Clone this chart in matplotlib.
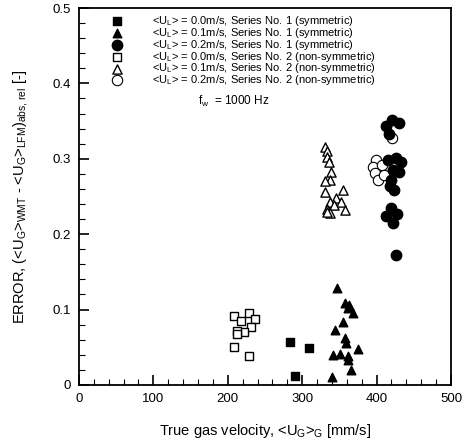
import matplotlib
matplotlib.use('Agg')
import matplotlib.pyplot as plt
from matplotlib.ticker import MultipleLocator

plt.rcParams['font.family'] = ['Liberation Sans', 'DejaVu Sans']
plt.rcParams['mathtext.fontset'] = 'custom'
plt.rcParams['mathtext.rm'] = 'Liberation Sans'
plt.rcParams['mathtext.it'] = 'Liberation Sans'

# Series No. 1 (symmetric)
sq_fill_x = [284, 309, 290]
sq_fill_y = [0.057, 0.049, 0.012]

tri_fill_x = [347, 357, 363, 361, 368, 355, 344, 358, 359, 375, 341, 351, 362, 362, 366, 340]
tri_fill_y = [0.128, 0.108, 0.106, 0.102, 0.095, 0.083, 0.073, 0.062, 0.056, 0.048,
              0.040, 0.041, 0.038, 0.033, 0.020, 0.010]

circ_fill_x = [421, 430, 412, 417, 416, 426, 433, 430, 422, 419, 423, 418,
               419, 428, 422, 412, 426]
circ_fill_y = [0.352, 0.348, 0.343, 0.333, 0.298, 0.301, 0.296, 0.282, 0.285, 0.272,
               0.258, 0.264, 0.235, 0.227, 0.215, 0.224, 0.172]

# Series No. 2 (non-symmetric)
sq_open_x = [208, 218, 229, 236, 231, 222, 212, 212, 209, 229]
sq_open_y = [0.091, 0.085, 0.096, 0.087, 0.077, 0.070, 0.071, 0.067, 0.050, 0.038]

tri_open_x = [331, 334, 333, 336, 339, 337, 331, 355, 331, 345, 338, 352, 334, 343, 358, 338, 334]
tri_open_y = [0.316, 0.310, 0.303, 0.296, 0.283, 0.272, 0.270, 0.259, 0.256, 0.248,
              0.243, 0.243, 0.234, 0.239, 0.232, 0.228, 0.230]

circ_open_x = [421, 399, 395, 398, 402, 407, 410]
circ_open_y = [0.328, 0.298, 0.289, 0.281, 0.272, 0.292, 0.278]

labels = [
    r'<U$_\mathrm{L}$> = 0.0m/s, Series No. 1 (symmetric)',
    r'<U$_\mathrm{L}$> = 0.1m/s, Series No. 1 (symmetric)',
    r'<U$_\mathrm{L}$> = 0.2m/s, Series No. 1 (symmetric)',
    r'<U$_\mathrm{L}$> = 0.0m/s, Series No. 2 (non-symmetric)',
    r'<U$_\mathrm{L}$> = 0.1m/s, Series No. 2 (non-symmetric)',
    r'<U$_\mathrm{L}$> = 0.2m/s, Series No. 2 (non-symmetric)',
]

fig = plt.figure(figsize=(4.64, 4.46), dpi=100)
ax = fig.add_axes([0.170, 0.137, 0.802, 0.845])

ax.scatter(sq_fill_x, sq_fill_y, marker='s', s=30, c='black', label=labels[0], zorder=3)
ax.scatter(tri_fill_x, tri_fill_y, marker='^', s=38, c='black', label=labels[1], zorder=3)
ax.scatter(circ_fill_x, circ_fill_y, marker='o', s=56, c='black', label=labels[2], zorder=3)
ax.scatter(sq_open_x, sq_open_y, marker='s', s=34, facecolors='white', edgecolors='black',
           linewidths=1.0, label=labels[3], zorder=2)
ax.scatter(tri_open_x, tri_open_y, marker='^', s=44, facecolors='white', edgecolors='black',
           linewidths=1.0, label=labels[4], zorder=2)
ax.scatter(circ_open_x, circ_open_y, marker='o', s=56, facecolors='white', edgecolors='black',
           linewidths=0.8, label=labels[5], zorder=2)

ax.set_xlim(0, 500)
ax.set_ylim(0, 0.5)
ax.xaxis.set_major_locator(MultipleLocator(100))
ax.xaxis.set_minor_locator(MultipleLocator(20))
ax.yaxis.set_minor_locator(MultipleLocator(0.02))
ax.set_yticks([0, 0.1, 0.2, 0.3, 0.4, 0.5])
ax.set_yticklabels(['0', '0.1', '0.2', '0.3', '0.4', '0.5'])
ax.tick_params(which='major', direction='in', length=7, width=1.2, labelsize=9.5, pad=6)
ax.tick_params(which='minor', direction='in', length=4, width=0.8)
for sp in ax.spines.values():
    sp.set_linewidth(1.3)

ax.set_xlabel(r'True gas velocity, <U$_\mathrm{G}$>$_\mathrm{G}$ [mm/s]', fontsize=10.5, labelpad=12)
ax.set_ylabel(r'ERROR, (<U$_\mathrm{G}$>$_\mathrm{WMT}$ - <U$_\mathrm{G}$>$_\mathrm{LFM}$)$_\mathrm{abs,\,rel}$ [-]',
              fontsize=10.5, labelpad=16)

ax.legend(loc='upper left', bbox_to_anchor=(0.06, 0.995), frameon=False, fontsize=8,
          handletextpad=2.2, labelspacing=-0.2, borderaxespad=0)
ax.text(160, 0.372, r'f$_\mathrm{w}$  = 1000 Hz', fontsize=8.5)

fig.savefig('out.png', dpi=100)
